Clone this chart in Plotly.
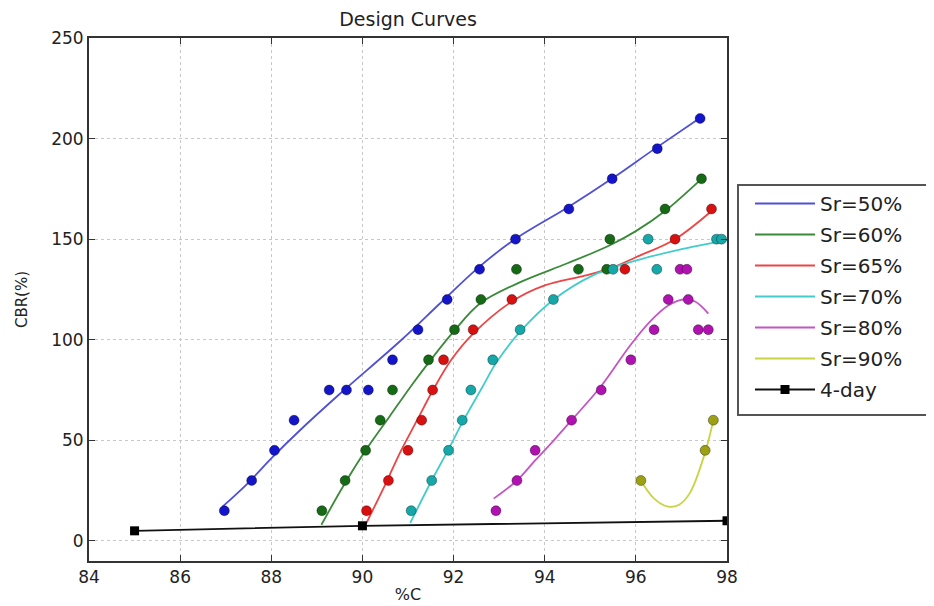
import plotly.graph_objects as go

# ---------------- data ----------------
series_names = ["Sr=50%", "Sr=60%", "Sr=65%", "Sr=70%", "Sr=80%", "Sr=90%"]

# measured points
sr50_x = [86.97, 87.57, 88.07, 88.5, 89.27, 89.65, 90.13, 90.66, 91.22, 91.86, 92.57, 93.36, 94.53, 95.48, 96.47, 97.41]
sr50_y = [15, 30, 45, 60, 75, 75, 75, 90, 105, 120, 135, 150, 165, 180, 195, 210]

sr60_x = [89.11, 89.62, 90.07, 90.39, 90.66, 91.45, 92.02, 92.6, 93.38, 94.74, 95.36, 95.43, 96.64, 97.44]
sr60_y = [15, 30, 45, 60, 75, 90, 105, 120, 135, 135, 135, 150, 165, 180]

sr65_x = [90.09, 90.57, 91.0, 91.3, 91.54, 91.78, 92.43, 93.28, 95.76, 96.86, 97.66]
sr65_y = [15, 30, 45, 60, 75, 90, 105, 120, 135, 150, 165]

sr70_x = [91.07, 91.52, 91.89, 92.19, 92.38, 92.86, 93.46, 94.19, 95.5, 96.46, 96.27, 97.77, 97.88]
sr70_y = [15, 30, 45, 60, 75, 90, 105, 120, 135, 135, 150, 150, 150]

sr80_x = [92.93, 93.39, 93.79, 94.59, 95.24, 95.89, 96.4, 96.71, 97.15, 96.97, 97.12, 97.37, 97.59]
sr80_y = [15, 30, 45, 60, 75, 90, 105, 120, 120, 135, 135, 105, 105]

sr90_x = [96.11, 97.52, 97.7]
sr90_y = [30, 45, 60]

# fitted design curves
fit50_x = [86.93, 87.5, 88.0, 88.63, 89.5, 90.86, 91.7, 92.55, 93.35, 94.52, 95.47, 96.42, 97.39]
fit50_y = [17, 29, 41, 55, 73, 100, 118, 136, 150, 166, 180, 195, 210]

fit60_x = [89.1, 89.6, 90.1, 90.6, 91.1, 91.5, 92.0, 92.58, 93.5, 94.5, 95.43, 96.0, 96.64, 97.44]
fit60_y = [8, 28, 46, 62, 78, 90, 104, 118, 129, 138, 147, 154, 164, 180]

fit65_x = [90.09, 90.5, 90.85, 91.2, 91.55, 91.95, 92.43, 93.28, 94.0, 94.9, 95.5, 96.0, 96.86, 97.66]
fit65_y = [9, 28, 45, 60, 75, 90, 103, 119, 127, 132, 136, 141, 150, 164]

fit70_x = [91.05, 91.52, 91.9, 92.22, 92.62, 92.95, 93.46, 94.2, 95.06, 96.1, 97.0, 97.77, 98.0]
fit70_y = [9, 30, 46, 60, 76, 89, 104, 120, 132, 140, 145, 148.5, 149.5]

fit80_x = [92.88, 93.39, 93.79, 94.2, 94.59, 95.24, 95.87, 96.31, 96.71, 97.04, 97.3, 97.59]
fit80_y = [21, 30, 40, 50, 60, 77, 97, 109, 117, 120, 119, 113]

fit90_x = [96.11, 96.4, 96.71, 96.95, 97.19, 97.52, 97.7]
fit90_y = [30, 21, 17, 18, 24, 44, 60]

day4_x = [85, 90, 98]
day4_y = [5, 7.5, 10]

x_ticks = [84, 86, 88, 90, 92, 94, 96, 98]
y_ticks = [0, 50, 100, 150, 200, 250]

# ---------------- styling ----------------
line_colors = ["#5050d6", "#3a8a3a", "#ee4444", "#44cccc", "#c455c4", "#c8d444"]
marker_colors = ["#1414c8", "#166a16", "#d81010", "#16a8a8", "#b012b0", "#9ca012"]

pts = [(sr50_x, sr50_y), (sr60_x, sr60_y), (sr65_x, sr65_y),
       (sr70_x, sr70_y), (sr80_x, sr80_y), (sr90_x, sr90_y)]
fits = [(fit50_x, fit50_y), (fit60_x, fit60_y), (fit65_x, fit65_y),
        (fit70_x, fit70_y), (fit80_x, fit80_y), (fit90_x, fit90_y)]

fig = go.Figure()

for i, name in enumerate(series_names):
    fx, fy = fits[i]
    fig.add_trace(go.Scatter(
        x=fx, y=fy, mode="lines", name=name, legendgroup=name,
        line=dict(color=line_colors[i], width=1.8, shape="spline", smoothing=1.0),
    ))

for i, name in enumerate(series_names):
    px_, py_ = pts[i]
    fig.add_trace(go.Scatter(
        x=px_, y=py_, mode="markers", showlegend=False, legendgroup=name,
        marker=dict(symbol="circle", size=10, color=marker_colors[i],
                    line=dict(color="rgba(0,0,0,0.35)", width=1)),
    ))

fig.add_trace(go.Scatter(
    x=day4_x, y=day4_y, mode="lines+markers", name="4-day", legendgroup="4-day",
    line=dict(color="#111111", width=1.8),
    marker=dict(symbol="square", size=9, color="#000000"),
))

font_family = "DejaVu Sans"

# the page body adds an 8px offset; figure is sized to fill the rest of the window
W, H = 926, 598
PL, PR, PT, PB = 81, 719, 30, 553  # plot area in figure pixels

fig.update_layout(
    width=W, height=H,
    margin=dict(l=PL, r=W - PR, t=PT, b=H - PB, autoexpand=False),
    paper_bgcolor="white", plot_bgcolor="white",
    font=dict(family=font_family, color="#222222", size=17),
    title=dict(text="Design Curves", x=(PL + PR) / 2 / W, xanchor="center",
               y=1 - 11 / H, yanchor="middle",
               font=dict(size=19, family=font_family, color="#222222")),
    showlegend=True,
    legend=dict(
        x=(750 - 89) / 638, xanchor="left",
        y=(561 - 184) / 523, yanchor="top",
        bgcolor="rgba(0,0,0,0)", borderwidth=0,
        font=dict(size=20, family=font_family, color="#222222"),
        tracegroupgap=2, itemwidth=60,
    ),
    shapes=[dict(type="rect", xref="paper", yref="paper",
                 x0=(738 - 89) / 638, x1=(930 - 89) / 638,
                 y0=(561 - 415) / 523, y1=(561 - 185) / 523,
                 line=dict(color="#555555", width=2), fillcolor="rgba(0,0,0,0)")],
)

fig.update_xaxes(
    range=[84, 98], tickvals=x_ticks, ticktext=[str(v) for v in x_ticks],
    showline=True, linecolor="#333333", linewidth=2, mirror="ticks",
    ticks="inside", ticklen=6, tickcolor="#333333", automargin=False,
    showgrid=True, gridcolor="#c8c8c8", griddash="dot", gridwidth=1,
    zeroline=False, tickfont=dict(size=17),
    title=dict(text="%C", font=dict(size=16), standoff=2),
)
fig.update_yaxes(
    range=[-10, 250], tickvals=y_ticks, ticktext=[str(v) for v in y_ticks],
    showline=True, linecolor="#333333", linewidth=2, mirror="ticks",
    ticks="inside", ticklen=6, tickcolor="#333333", automargin=False,
    showgrid=True, gridcolor="#c8c8c8", griddash="dot", gridwidth=1,
    zeroline=False, tickfont=dict(size=17),
    title=dict(text="CBR(%)", font=dict(size=15), standoff=20),
)

fig.write_html("out.html")
